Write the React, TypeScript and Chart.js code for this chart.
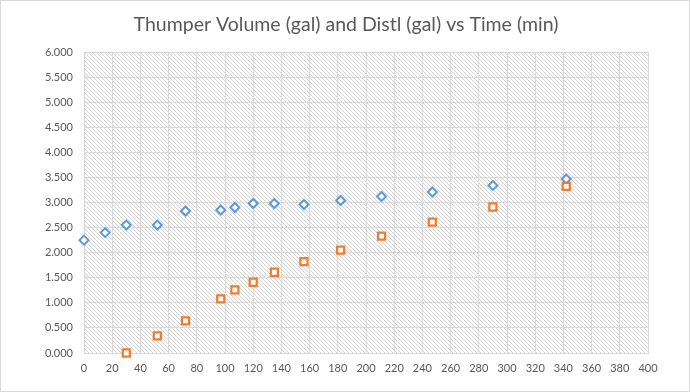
import React, { useEffect, useRef } from "react";
import { Chart, registerables } from "chart.js";

Chart.register(...registerables);

const timeThumper = [0, 15, 30, 52, 72, 97, 107, 120, 135, 156, 182, 211, 247, 290, 342];
const thumperVolume = [2.25, 2.40, 2.55, 2.55, 2.83, 2.85, 2.90, 2.98, 2.98, 2.96, 3.04, 3.12, 3.21, 3.34, 3.47];
const timeDistl = [30, 52, 72, 97, 107, 120, 135, 156, 182, 211, 247, 290, 342];
const distlVolume = [0.0, 0.34, 0.64, 1.08, 1.26, 1.41, 1.61, 1.82, 2.05, 2.33, 2.61, 2.91, 3.32];

const chartTitle = "Thumper Volume (gal) and Distl (gal) vs Time (min)";

const hatchPlugin = {
  id: "hatch",
  beforeDraw(chart: any) {
    const { ctx, chartArea } = chart;
    const tile = document.createElement("canvas");
    tile.width = 4;
    tile.height = 4;
    const tctx = tile.getContext("2d")!;
    tctx.fillStyle = "#ffffff";
    tctx.fillRect(0, 0, 4, 4);
    tctx.fillStyle = "#d2d2d2";
    for (let i = 0; i < 4; i++) tctx.fillRect(i, i, 1, 1);
    const pat = ctx.createPattern(tile, "repeat");
    ctx.save();
    ctx.fillStyle = "#ffffff";
    ctx.fillRect(0, 0, chart.width, chart.height);
    ctx.fillStyle = pat;
    ctx.fillRect(chartArea.left, chartArea.top, chartArea.right - chartArea.left, chartArea.bottom - chartArea.top);
    ctx.restore();
  },
  afterDraw(chart: any) {
    const { ctx } = chart;
    ctx.save();
    ctx.fillStyle = "#595959";
    ctx.font = "19.5px Lato";
    ctx.textAlign = "center";
    ctx.textBaseline = "alphabetic";
    ctx.fillText(chartTitle, chart.width / 2 + 1, 31);
    ctx.strokeStyle = "#d9d9d9";
    ctx.lineWidth = 1;
    ctx.strokeRect(0.5, 0.5, chart.width - 1, chart.height - 1);
    ctx.restore();
  },
};

export default function App() {
  const ref = useRef<HTMLCanvasElement>(null);
  useEffect(() => {
    const chart = new Chart(ref.current!, {
      type: "scatter",
      data: {
        datasets: [
          {
            label: "Thumper Volume (gal)",
            data: timeThumper.map((t, i) => ({ x: t, y: thumperVolume[i] })),
            pointStyle: "rectRot",
            pointRadius: 4.5,
            pointBorderWidth: 2,
            borderColor: "#5b9bd5",
            backgroundColor: "#ffffff",
            clip: false,
            order: 2,
          },
          {
            label: "Distl (gal)",
            data: timeDistl.map((t, i) => ({ x: t, y: distlVolume[i] })),
            pointStyle: "rect",
            pointRadius: 5,
            pointBorderWidth: 2.25,
            borderColor: "#ed7d31",
            backgroundColor: "#ffffff",
            clip: false,
            order: 1,
          },
        ],
      },
      options: {
        animation: false,
        responsive: false,
        layout: { padding: { left: 0, right: 42, top: 52, bottom: 0 } },
        plugins: {
          legend: { display: false },
          tooltip: { enabled: false },
          title: { display: false },
        },
        scales: {
          x: {
            type: "linear",
            min: 0,
            max: 400,
            ticks: {
              stepSize: 20,
              color: "#595959",
              font: { family: "Lato", size: 11 },
              padding: 9,
            },
            grid: { color: "#d9d9d9", drawTicks: false },
            border: { color: "#d9d9d9" },
            afterFit(scale: any) {
              scale.height = 39;
            },
          },
          y: {
            min: 0,
            max: 6,
            ticks: {
              stepSize: 0.5,
              color: "#595959",
              font: { family: "Lato", size: 11 },
              padding: 11,
              callback: (v: any) => Number(v).toFixed(3),
            },
            grid: { color: "#d9d9d9", drawTicks: false },
            border: { color: "#d9d9d9" },
            afterFit(scale: any) {
              scale.width = 84;
            },
          },
        },
      },
      plugins: [hatchPlugin],
    });
    return () => chart.destroy();
  }, []);
  return (
    <div style={{ position: "fixed", left: 0, top: 0 }}>
      <canvas ref={ref} width={690} height={392} style={{ display: "block", width: 690, height: 392 }} />
    </div>
  );
}
